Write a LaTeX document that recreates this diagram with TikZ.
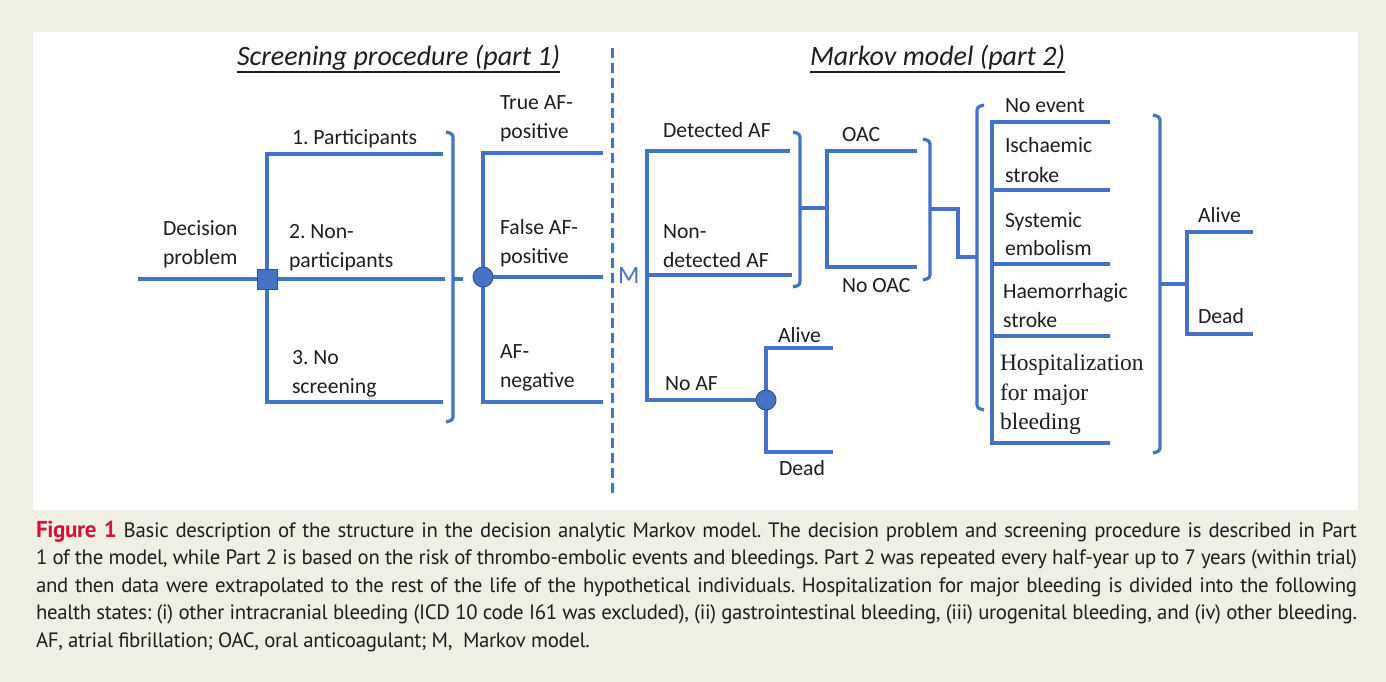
\documentclass[tikz,border=0pt]{standalone}
\usepackage{fontspec}
\setmainfont{Carlito}
\newfontfamily\serifx{Liberation Serif}
\newfontfamily\capfont[LetterSpace=-1.5]{PT Sans}
\definecolor{lineblue}{HTML}{4472C4}
\definecolor{darkblue}{HTML}{2F5597}
\definecolor{bgbeige}{HTML}{EFEFE3}
\definecolor{figred}{HTML}{D2143C}
\definecolor{txt}{HTML}{1E1E1E}
\newcommand{\capline}[1]{\makebox[1321pt][s]{#1}}
\begin{document}
\frenchspacing
\begin{tikzpicture}[x=1pt,y=-1pt,
  ln/.style={draw=lineblue,line width=3.2pt},
  brk/.style={draw=lineblue,line width=3.2pt,rounded corners=3pt},
  lbl/.style={anchor=base west,inner sep=0pt,outer sep=0pt,text=txt,font=\fontsize{21.7}{26}\selectfont},
  hlbl/.style={anchor=base west,inner sep=0pt,outer sep=0pt,text=txt,font=\serifx\fontsize{23.5}{28}\selectfont},
  ttl/.style={anchor=base west,inner sep=0pt,outer sep=0pt,text=txt,font=\itshape\fontsize{28}{32}\selectfont},
  captxt/.style={anchor=base west,inner sep=0pt,outer sep=0pt,text=txt,font=\capfont\fontsize{20.8}{27}\selectfont},
  decsq/.style={draw=darkblue,fill=lineblue,line width=1pt,minimum size=20pt,inner sep=0pt},
  chance/.style={circle,draw=darkblue,fill=lineblue,line width=1pt,minimum size=20pt,inner sep=0pt}]
% background
\fill[bgbeige] (0,0) rectangle (1386,682);
\fill[white] (33,32) rectangle (1358,510);
\useasboundingbox (0,0) rectangle (1386,682);

% titles
\node[ttl] (t1) at (237,66) {Screening procedure (part 1)};
\draw[line width=1.5pt,txt] ([yshift=-6pt]t1.base west) -- ([yshift=-6pt]t1.base east);
\node[ttl] (t2) at (810,66) {Markov model (part 2)};
\draw[line width=1.5pt,txt] ([yshift=-6pt]t2.base west) -- ([yshift=-6pt]t2.base east);

% dashed separator
\coordinate (dtop) at (612,48);
\coordinate (dbot) at (612,496);
\draw[draw=lineblue,line width=3pt,dash pattern=on 10pt off 5pt] (dtop) -- (dbot);

% ---------- Part 1 ----------
\coordinate (s0) at (138,279);
\coordinate (j1) at (267,279);
\coordinate (a1) at (443,154);
\coordinate (a2) at (445,279);
\coordinate (a3) at (443,402);
\draw[ln] (s0) -- (j1);
\draw[ln] (a1) -| (j1) |- (a3);
\draw[ln] (j1) -- (a2);
\node[decsq] (dec) at (j1) {};

% bracket 1
\draw[brk] (446,132) -- (453,134) -- (453,420) -- (446,422);
\coordinate (b1m) at (453,279);
\coordinate (b1k) at (463,279);
\draw[ln] (b1m) -- (b1k);

\coordinate (j2) at (483,277);
\coordinate (b1) at (603,153);
\coordinate (b2) at (603,277);
\coordinate (b3) at (603,402);
\draw[ln] (b1) -| (j2) |- (b3);
\draw[ln] (j2) -- (b2);
\node[chance] (c1) at (j2) {};

% labels part 1
\node[lbl] (dp1) at (163,235) {Decision};
\node[lbl] (dp2) at (163,264) {problem};
\node[lbl] (p1) at (292,144) {1. Participants};
\node[lbl] (np1) at (289,238) {2. Non-};
\node[lbl] (np2) at (289,267) {participants};
\node[lbl] (ns1) at (292,364) {3. No};
\node[lbl] (ns2) at (292,393) {screening};
\node[lbl] (tp1) at (500,110) {True AF-};
\node[lbl] (tp2) at (500,139) {positive};
\node[lbl] (fp1) at (500,234) {False AF-};
\node[lbl] (fp2) at (500,263) {positive};
\node[lbl] (an1) at (500,358) {AF-};
\node[lbl] (an2) at (500,387) {negative};
\node[lbl,text=lineblue,font=\fontsize{25}{28}\selectfont] (M) at (618,283) {M};

% ---------- Part 2 ----------
\coordinate (j3) at (647,275);
\coordinate (c1e) at (790,151);
\coordinate (c2e) at (792,275);
\coordinate (j4) at (766,400);
\draw[ln] (c1e) -| (j3) |- (j4);
\draw[ln] (j3) -- (c2e);

% bracket 2
\draw[brk] (793,132) -- (800,134) -- (800,285) -- (793,287);
\coordinate (b2m) at (800,208);
\coordinate (j5) at (827,208);
\coordinate (d1) at (917,151);
\coordinate (d2) at (917,267);
\draw[ln] (b2m) -- (j5);
\draw[ln] (d1) -| (j5) |- (d2);

% bracket 3
\draw[brk] (923,139) -- (930,141) -- (930,278) -- (923,280);
\coordinate (b3m) at (930,209);
\coordinate (k1) at (958,257);
\coordinate (b4m) at (977,257);
\draw[ln] (b3m) -| (k1) -- (b4m);

% big left bracket
\draw[brk] (984,105) -- (977,107) -- (977,408) -- (984,410);

% event branches
\coordinate (v6t) at (992,122);
\coordinate (v6b) at (992,443);
\coordinate (e1) at (1110,122);
\coordinate (e2) at (1110,190);
\coordinate (e3) at (1110,264);
\coordinate (e4) at (1110,336);
\coordinate (e5) at (1110,443);
\draw[ln] (e1) -- (v6t) -- (v6b) -- (e5);
\draw[ln] (e2) -- (e2-|v6t);
\draw[ln] (e3) -- (e3-|v6t);
\draw[ln] (e4) -- (e4-|v6t);

% bracket 5
\draw[brk] (1153,115) -- (1160,117) -- (1160,451) -- (1153,453);
\coordinate (b5m) at (1160,284);
\coordinate (j7) at (1187,284);
\coordinate (f1) at (1253,232);
\coordinate (f2) at (1253,334);
\draw[ln] (b5m) -- (j7);
\draw[ln] (f1) -| (j7) |- (f2);

% No AF chance
\coordinate (g1) at (833,348);
\coordinate (g2) at (833,452);
\draw[ln] (g1) -| (j4) |- (g2);
\node[chance] (c2) at (j4) {};

% labels part 2
\node[lbl] (da) at (663,138) {Detected AF};
\node[lbl] (nd1) at (663,238) {Non-};
\node[lbl] (nd2) at (663,267) {detected AF};
\node[lbl] (naf) at (665,390) {No AF};
\node[lbl] (oac) at (842,142) {OAC};
\node[lbl] (noac) at (842,292) {No OAC};
\node[lbl] (al1) at (778,342) {Alive};
\node[lbl] (de1) at (779,475) {Dead};
\node[lbl] (ne) at (1005,113) {No event};
\node[lbl] (is1) at (1005,153) {Ischaemic};
\node[lbl] (is2) at (1005,182) {stroke};
\node[lbl] (se1) at (1005,227) {Systemic};
\node[lbl] (se2) at (1005,255) {embolism};
\node[lbl] (hs1) at (1003,298) {Haemorrhagic};
\node[lbl] (hs2) at (1003,327) {stroke};
\node[hlbl] (hb1) at (1000,370) {Hospitalization};
\node[hlbl] (hb2) at (1000,400) {for major};
\node[hlbl] (hb3) at (1000,429) {bleeding};
\node[lbl] (al2) at (1198,222) {Alive};
\node[lbl] (de2) at (1198,323) {Dead};

% caption
\node[captxt] (cap1) at (36,537) {\capline{{\color{figred}\bfseries\fontsize{23}{27}\selectfont Figure 1} Basic description of the structure in the decision analytic Markov model. The decision problem and screening procedure is described in Part}};
\node[captxt] (cap2) at (36,564.5) {\capline{1 of the model, while Part 2 is based on the risk of thrombo-embolic events and bleedings. Part 2 was repeated every half-year up to 7 years (within trial)}};
\node[captxt] (cap3) at (36,592) {\capline{and then data were extrapolated to the rest of the life of the hypothetical individuals. Hospitalization for major bleeding is divided into the following}};
\node[captxt] (cap4) at (36,619.5) {\capline{health states: (i) other intracranial bleeding (ICD 10 code I61 was excluded), (ii) gastrointestinal bleeding, (iii) urogenital bleeding, and (iv) other bleeding.}};
\node[captxt] (cap5) at (36,647) {AF, atrial fibrillation; OAC, oral anticoagulant; M,\ \ Markov model.};
\end{tikzpicture}
\end{document}
